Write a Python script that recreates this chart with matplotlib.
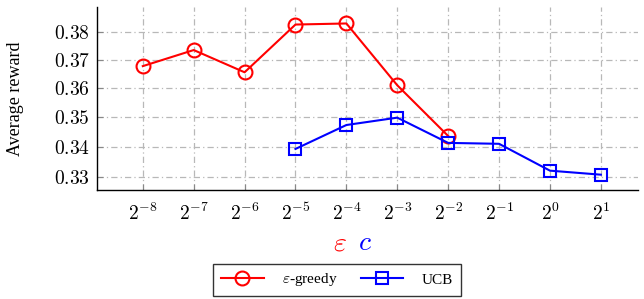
import matplotlib
matplotlib.use("Agg")
import matplotlib.pyplot as plt

plt.rcParams['font.family'] = ['Liberation Serif', 'DejaVu Serif']
plt.rcParams['mathtext.fontset'] = 'cm'

exponents = [-8, -7, -6, -5, -4, -3, -2, -1, 0, 1]
tick_labels = [r'$2^{%d}$' % e for e in exponents]

eps_x = [-8, -7, -6, -5, -4, -3, -2]
eps_y = [0.3677, 0.3735, 0.3655, 0.3829, 0.3833, 0.3609, 0.3435]

ucb_x = [-5, -4, -3, -2, -1, 0, 1]
ucb_y = [0.3392, 0.3472, 0.3497, 0.3412, 0.3409, 0.3321, 0.3308]

yticks = [0.33, 0.34, 0.35, 0.36, 0.37, 0.38]

fig = plt.figure(figsize=(6.44, 2.99), dpi=100)
ax = fig.add_axes([97/644, 1-190/299, (638-97)/644, (190-7)/299])

ax.set_yscale('log')
ax.plot(eps_x, eps_y, color='red', lw=1.5, marker='o', ms=10, mfc='none', mew=1.5, label=r'$\varepsilon$-greedy')
ax.plot(ucb_x, ucb_y, color='blue', lw=1.5, marker='s', ms=9, mfc='none', mew=1.5, label='UCB')

ax.set_xlim(-8.9, 1.73)
ax.set_ylim(0.3259, 0.3895)
ax.set_xticks(exponents)
ax.set_xticklabels(tick_labels, fontsize=14)
ax.set_yticks(yticks)
ax.set_yticklabels([r'$%.2f$' % v for v in yticks], fontsize=14)
ax.yaxis.set_minor_locator(matplotlib.ticker.NullLocator())
ax.yaxis.set_minor_formatter(matplotlib.ticker.NullFormatter())

ax.grid(True, color='#b8b8b8', lw=0.9, linestyle=(0, (5, 2.5, 1, 2.5)))
ax.set_axisbelow(True)
for s in ['top', 'right']:
    ax.spines[s].set_visible(False)
for s in ['left', 'bottom']:
    ax.spines[s].set_linewidth(1.0)
ax.tick_params(direction='in', length=4, color='#888888')
ax.tick_params(axis='x', pad=9)
ax.tick_params(axis='y', pad=5)

ax.set_ylabel('Average reward', fontsize=13)
ax.yaxis.set_label_coords((24-97)/541, 0.5)

fig.text(340/644, 1-244/299, r'$\varepsilon$', color='red', fontsize=20, ha='center', va='center')
fig.text(365/644, 1-244/299, r'$c$', color='blue', fontsize=20, ha='center', va='center')

leg = fig.legend(loc='center', bbox_to_anchor=(337/644, 1-280/299), ncol=2, fontsize=11,
                 frameon=True, fancybox=False, edgecolor='black', handlelength=2.8,
                 columnspacing=1.5, handletextpad=1.2, borderpad=0.5)
leg.get_frame().set_linewidth(1.0)

fig.savefig('out.png', dpi=100)
